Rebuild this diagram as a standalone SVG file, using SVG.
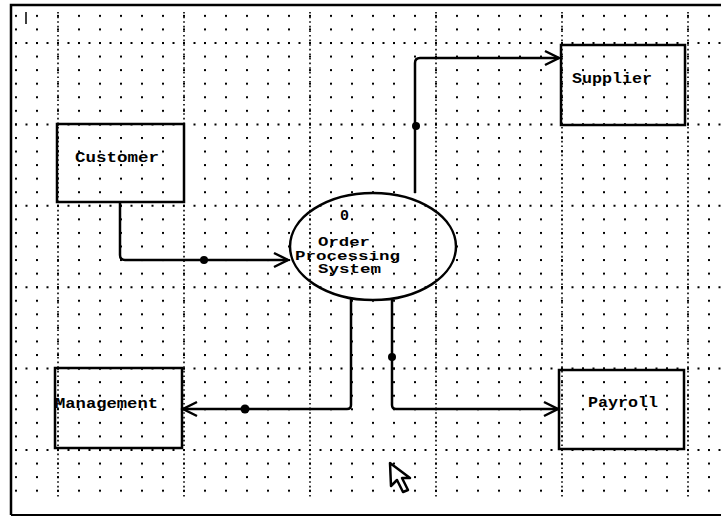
<svg xmlns="http://www.w3.org/2000/svg" width="721" height="518" viewBox="0 0 721 518">
<style>
.node{fill:none;stroke:#000;stroke-width:2.5}
.lbl{font-family:"Liberation Mono","DejaVu Sans Mono",monospace;font-weight:bold;font-size:15px;fill:#000}
.plbl{font-family:"Liberation Mono","DejaVu Sans Mono",monospace;font-weight:bold;font-size:12px;fill:#000}
.conn{fill:none;stroke:#000;stroke-width:2.5;stroke-linejoin:round}
.jd{fill:#000}
.vmaj{stroke:#000;stroke-width:1.6;stroke-dasharray:1.6 3}
.hmaj{stroke:#000;stroke-width:2;stroke-dasharray:2 8.5}
</style>
<defs>
<pattern id="dots" x="57" y="42" width="21" height="13.5667" patternUnits="userSpaceOnUse">
<rect x="0" y="0" width="2" height="2" fill="#000"/>
</pattern>
<marker id="arr" markerUnits="userSpaceOnUse" markerWidth="20" markerHeight="20" refX="15" refY="9" orient="auto">
<path d="M1,2 L15,9 L1,16" fill="none" stroke="#000" stroke-width="2.5"/>
</marker>
</defs>
<rect width="721" height="518" fill="#fff"/>
<g id="grid">
<rect x="14" y="14" width="700" height="480" fill="url(#dots)"/>
<line class="vmaj" x1="58" y1="12" x2="58" y2="498"/>
<line class="vmaj" x1="184" y1="12" x2="184" y2="498"/>
<line class="vmaj" x1="310" y1="12" x2="310" y2="498"/>
<line class="vmaj" x1="436" y1="12" x2="436" y2="498"/>
<line class="vmaj" x1="562" y1="12" x2="562" y2="498"/>
<line class="vmaj" x1="688" y1="12" x2="688" y2="498"/>
<line class="hmaj" x1="15" y1="43" x2="721" y2="43"/>
<line class="hmaj" x1="15" y1="124.4" x2="721" y2="124.4"/>
<line class="hmaj" x1="15" y1="205.8" x2="721" y2="205.8"/>
<line class="hmaj" x1="15" y1="287.2" x2="721" y2="287.2"/>
<line class="hmaj" x1="15" y1="368.6" x2="721" y2="368.6"/>
<line class="hmaj" x1="15" y1="450" x2="721" y2="450"/>
</g>
<g id="frame">
<path d="M11,515 L11,5 L721,5" fill="none" stroke="#000" stroke-width="2.5"/>
<line x1="11" y1="515" x2="721" y2="515" stroke="#000" stroke-width="2"/>
<line x1="26" y1="12" x2="26" y2="24" stroke="#000" stroke-width="1.5"/>
</g>
<g id="connectors">
<path class="conn" d="M120,202 L120,255 Q120,260 125,260 L288,260" marker-end="url(#arr)"/>
<circle class="jd" cx="204" cy="260" r="4"/>
<path class="conn" d="M415,193 L415,63 Q415,58 420,58 L559,58" marker-end="url(#arr)"/>
<circle class="jd" cx="416" cy="126" r="4"/>
<path class="conn" d="M351,298 L351,405 Q351,409 347,409 L183,409" marker-end="url(#arr)"/>
<circle class="jd" cx="245" cy="409" r="4.5"/>
<path class="conn" d="M392,300 L392,405 Q392,409 396,409 L558,409" marker-end="url(#arr)"/>
<circle class="jd" cx="392" cy="357" r="4"/>
</g>
<g id="customer">
<rect class="node" x="57" y="124" width="127" height="78"/>
<text class="lbl" x="75" y="162" textLength="84" lengthAdjust="spacingAndGlyphs">Customer</text>
</g>
<g id="supplier">
<rect class="node" x="561" y="45" width="124" height="80"/>
<text class="lbl" x="572" y="83" textLength="80" lengthAdjust="spacingAndGlyphs">Supplier</text>
</g>
<g id="management">
<rect class="node" x="55" y="368" width="127" height="80"/>
<text class="lbl" x="55" y="408" textLength="103" lengthAdjust="spacingAndGlyphs">Management</text>
</g>
<g id="payroll">
<rect class="node" x="559" y="370" width="125" height="79"/>
<text class="lbl" x="588" y="407" textLength="70" lengthAdjust="spacingAndGlyphs">Payroll</text>
</g>
<g id="process">
<ellipse class="node" cx="373" cy="246.5" rx="83" ry="53.5"/>
<text class="lbl" x="340" y="220" textLength="9" lengthAdjust="spacingAndGlyphs">0</text>
<text class="plbl" x="318" y="246" textLength="52" lengthAdjust="spacingAndGlyphs">Order</text>
<text class="plbl" x="295" y="259.5" textLength="105" lengthAdjust="spacingAndGlyphs">Processing</text>
<text class="plbl" x="318" y="273" textLength="63" lengthAdjust="spacingAndGlyphs">System</text>
</g>
<g id="cursor">
<polygon points="390,463 391,486 397,480 403,492 408,490 402,478 410,478" fill="#fff" stroke="#000" stroke-width="2.5" stroke-linejoin="round"/>
</g>
</svg>
